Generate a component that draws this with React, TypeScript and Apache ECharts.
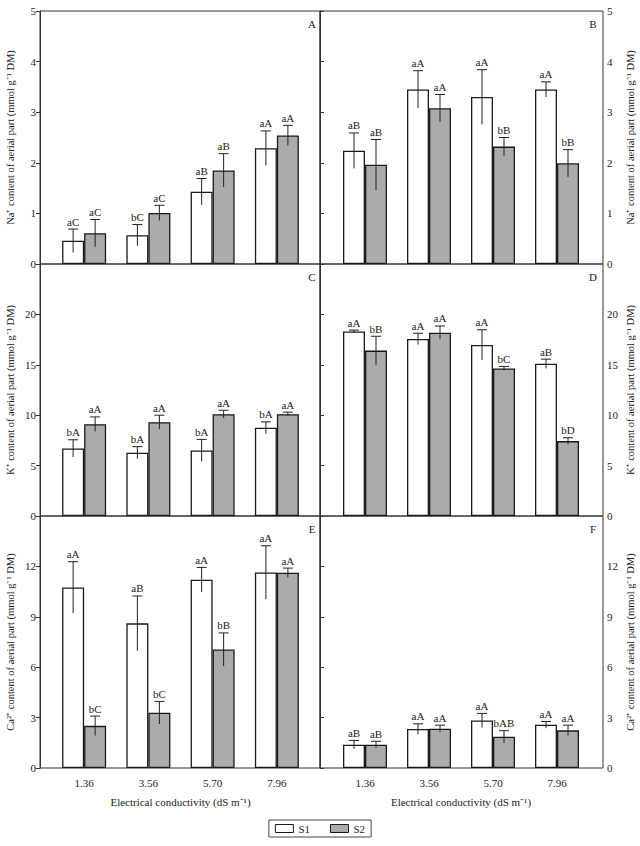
import React, { useEffect, useRef } from 'react';
import * as echarts from 'echarts';

// ---------- data ----------
const categories = ['1.36', '3.56', '5.70', '7.96'];
const seriesNames = ['S1', 'S2'];

// Panel A – Na+ (left)
const naA_S1 = [0.46, 0.57, 1.43, 2.29];
const naA_S1Err = [0.23, 0.21, 0.26, 0.34];
const naA_S1Let = ['aC', 'bC', 'aB', 'aA'];
const naA_S2 = [0.61, 1.01, 1.85, 2.54];
const naA_S2Err = [0.27, 0.15, 0.33, 0.2];
const naA_S2Let = ['aC', 'aC', 'aB', 'aA'];

// Panel B – Na+ (right)
const naB_S1 = [2.24, 3.45, 3.3, 3.45];
const naB_S1Err = [0.35, 0.37, 0.54, 0.15];
const naB_S1Let = ['aB', 'aA', 'aA', 'aA'];
const naB_S2 = [1.96, 3.08, 2.32, 1.99];
const naB_S2Err = [0.5, 0.27, 0.18, 0.27];
const naB_S2Let = ['aB', 'aA', 'bB', 'bB'];

// Panel C – K+ (left)
const kC_S1 = [6.7, 6.28, 6.51, 8.75];
const kC_S1Err = [0.86, 0.6, 1.09, 0.59];
const kC_S1Let = ['bA', 'bA', 'bA', 'bA'];
const kC_S2 = [9.11, 9.31, 10.1, 10.1];
const kC_S2Err = [0.72, 0.69, 0.39, 0.2];
const kC_S2Let = ['aA', 'aA', 'aA', 'aA'];

// Panel D – K+ (right)
const kD_S1 = [18.3, 17.57, 16.97, 15.1];
const kD_S1Err = [0.14, 0.56, 1.51, 0.46];
const kD_S1Let = ['aA', 'aA', 'aA', 'aB'];
const kD_S2 = [16.41, 18.19, 14.64, 7.43];
const kD_S2Err = [1.42, 0.66, 0.2, 0.33];
const kD_S2Let = ['bB', 'aA', 'bC', 'bD'];

// Panel E – Ca2+ (left)
const caE_S1 = [10.75, 8.61, 11.21, 11.64];
const caE_S1Err = [1.53, 1.63, 0.73, 1.59];
const caE_S1Let = ['aA', 'aB', 'aA', 'aA'];
const caE_S2 = [2.51, 3.29, 7.05, 11.62];
const caE_S2Err = [0.58, 0.67, 0.99, 0.28];
const caE_S2Let = ['bC', 'bC', 'bB', 'aA'];

// Panel F – Ca2+ (right)
const caF_S1 = [1.39, 2.32, 2.83, 2.57];
const caF_S1Err = [0.25, 0.31, 0.42, 0.2];
const caF_S1Let = ['aB', 'aA', 'aA', 'aA'];
const caF_S2 = [1.39, 2.34, 1.86, 2.24];
const caF_S2Err = [0.2, 0.21, 0.36, 0.31];
const caF_S2Let = ['aB', 'aA', 'bAB', 'aA'];

const naTitle = 'Na⁺ content of aerial part (mmol g⁻¹ DM)';
const kTitle = 'K⁺ content of aerial part (mmol g⁻¹ DM)';
const caTitle = 'Ca²⁺ content of aerial part (mmol g⁻¹ DM)';
const xTitle = 'Electrical conductivity (dS m⁻¹)';

const panels = [
  { letter: 'A', col: 0, row: 0, max: 5, interval: 1, hideTop: false, title: naTitle,
    s1: naA_S1, e1: naA_S1Err, l1: naA_S1Let, s2: naA_S2, e2: naA_S2Err, l2: naA_S2Let },
  { letter: 'B', col: 1, row: 0, max: 5, interval: 1, hideTop: false, title: naTitle,
    s1: naB_S1, e1: naB_S1Err, l1: naB_S1Let, s2: naB_S2, e2: naB_S2Err, l2: naB_S2Let },
  { letter: 'C', col: 0, row: 1, max: 25, interval: 5, hideTop: true, title: kTitle,
    s1: kC_S1, e1: kC_S1Err, l1: kC_S1Let, s2: kC_S2, e2: kC_S2Err, l2: kC_S2Let },
  { letter: 'D', col: 1, row: 1, max: 25, interval: 5, hideTop: true, title: kTitle,
    s1: kD_S1, e1: kD_S1Err, l1: kD_S1Let, s2: kD_S2, e2: kD_S2Err, l2: kD_S2Let },
  { letter: 'E', col: 0, row: 2, max: 15, interval: 3, hideTop: true, title: caTitle,
    s1: caE_S1, e1: caE_S1Err, l1: caE_S1Let, s2: caE_S2, e2: caE_S2Err, l2: caE_S2Let },
  { letter: 'F', col: 1, row: 2, max: 15, interval: 3, hideTop: true, title: caTitle,
    s1: caF_S1, e1: caF_S1Err, l1: caF_S1Let, s2: caF_S2, e2: caF_S2Err, l2: caF_S2Let },
];

// ---------- layout ----------
const FONT = 'Liberation Serif';
const INK = '#222';
const GRAY = '#ababab';
const BAR_W = 22;
const rowTops = [11, 264, 516];
const rowHeights = [253, 252, 252];
const frameCols = [{ left: 40, width: 280 }, { left: 320, width: 283 }];
const barCols = [{ left: 52, width: 257 }, { left: 333, width: 256 }];

function buildOption() {
  const grid: any[] = [];
  const xAxis: any[] = [];
  const yAxis: any[] = [];
  const series: any[] = [];
  const graphic: any[] = [];

  panels.forEach((p, i) => {
    grid[i] = {
      left: frameCols[p.col].left, width: frameCols[p.col].width,
      top: rowTops[p.row], height: rowHeights[p.row],
      show: true, borderColor: '#333', borderWidth: 1, backgroundColor: 'transparent',
    };
    grid[6 + i] = {
      left: barCols[p.col].left, width: barCols[p.col].width,
      top: rowTops[p.row], height: rowHeights[p.row],
    };
    xAxis[i] = { gridIndex: i, type: 'value', min: 0, max: 1, show: false };
    yAxis[i] = {
      gridIndex: i, type: 'value', min: 0, max: p.max, interval: p.interval,
      position: p.col === 0 ? 'left' : 'right',
      axisLine: { show: true, lineStyle: { color: '#333', width: 1 } },
      axisTick: { show: true, length: 4, inside: false, lineStyle: { color: '#333' } },
      axisLabel: {
        fontSize: 11, color: INK, fontFamily: FONT, margin: 4,
        formatter: (v: number) => (p.hideTop && v === p.max ? '' : String(v)),
      },
      splitLine: { show: false },
      name: p.title, nameLocation: 'middle', nameRotate: 90,
      nameGap: p.col === 0 ? 24 : 22,
      nameTextStyle: { fontSize: 10.5, color: INK, fontFamily: FONT },
    };
    const bottom = p.row === 2;
    xAxis[6 + i] = {
      gridIndex: 6 + i, type: 'category', data: categories,
      axisLine: { show: false }, axisTick: { show: false },
      axisLabel: { show: bottom, fontSize: 11, color: INK, fontFamily: FONT, margin: 9 },
      name: bottom ? xTitle : '', nameLocation: 'middle', nameGap: 28,
      nameTextStyle: { fontSize: 11, color: INK, fontFamily: FONT },
    };
    yAxis[6 + i] = { gridIndex: 6 + i, type: 'value', min: 0, max: p.max, interval: p.interval, show: false };

    const barCommon = {
      type: 'bar', xAxisIndex: 6 + i, yAxisIndex: 6 + i, barWidth: BAR_W, barGap: '0%', z: 2,
    };
    series.push({
      ...barCommon, name: seriesNames[0], data: p.s1,
      itemStyle: { color: '#ffffff', borderColor: '#1a1a1a', borderWidth: 1.3 },
    });
    series.push({
      ...barCommon, name: seriesNames[1], data: p.s2,
      itemStyle: { color: GRAY, borderColor: '#1a1a1a', borderWidth: 1.3 },
    });

    const errData: any[] = [];
    const letters: string[] = [];
    p.s1.forEach((v, k) => { errData.push([k, v, p.e1[k], -1]); letters.push(p.l1[k]); });
    p.s2.forEach((v, k) => { errData.push([k, v, p.e2[k], 1]); letters.push(p.l2[k]); });

    series.push({
      type: 'custom', xAxisIndex: 6 + i, yAxisIndex: 6 + i, z: 5, silent: true,
      data: errData, encode: { x: 0, y: 1 },
      renderItem: (params: any, api: any) => {
        const cat = api.value(0);
        const v = api.value(1);
        const e = api.value(2);
        const side = api.value(3);
        const c = api.coord([cat, v]);
        const x = c[0] + (side * BAR_W) / 2;
        const top = api.coord([cat, v + e])[1];
        const bot = api.coord([cat, Math.max(0, v - e)])[1];
        const stroke = { stroke: INK, lineWidth: 1 };
        return {
          type: 'group',
          children: [
            { type: 'line', shape: { x1: x, y1: top, x2: x, y2: bot }, style: stroke },
            { type: 'line', shape: { x1: x - 5, y1: top, x2: x + 5, y2: top }, style: stroke },
            {
              type: 'text', x: x, y: top - 2,
              style: {
                text: letters[params.dataIndex], fill: INK, fontSize: 11, fontFamily: FONT,
                textAlign: 'center', textVerticalAlign: 'bottom',
              },
            },
          ],
        };
      },
    });

    graphic.push({
      type: 'text',
      x: p.col === 0 ? 312 : 593,
      y: rowTops[p.row] + 13,
      style: {
        text: p.letter, fill: INK, fontSize: 11, fontFamily: FONT,
        textAlign: 'center', textVerticalAlign: 'middle',
      },
    });
  });

  return {
    animation: false,
    backgroundColor: '#ffffff',
    textStyle: { fontFamily: FONT, color: INK },
    grid, xAxis, yAxis, series, graphic,
    legend: {
      data: seriesNames, top: 820, left: 'center', orient: 'horizontal',
      icon: 'rect', itemWidth: 18, itemHeight: 8, itemGap: 20,
      borderColor: '#444', borderWidth: 1, padding: [3, 6, 3, 6],
      selectedMode: false,
      textStyle: { fontSize: 11, color: INK, fontFamily: FONT },
      itemStyle: { borderColor: '#1a1a1a', borderWidth: 1 },
    },
  };
}

export default function App() {
  const ref = useRef<HTMLDivElement>(null);
  useEffect(() => {
    if (!ref.current) return;
    const chart = echarts.init(ref.current, undefined, { renderer: 'svg' });
    chart.setOption(buildOption() as any);
    return () => chart.dispose();
  }, []);
  return (
    <div
      ref={ref}
      style={{ position: 'absolute', left: 0, top: 0, width: 640, height: 846, background: '#fff' }}
    />
  );
}
